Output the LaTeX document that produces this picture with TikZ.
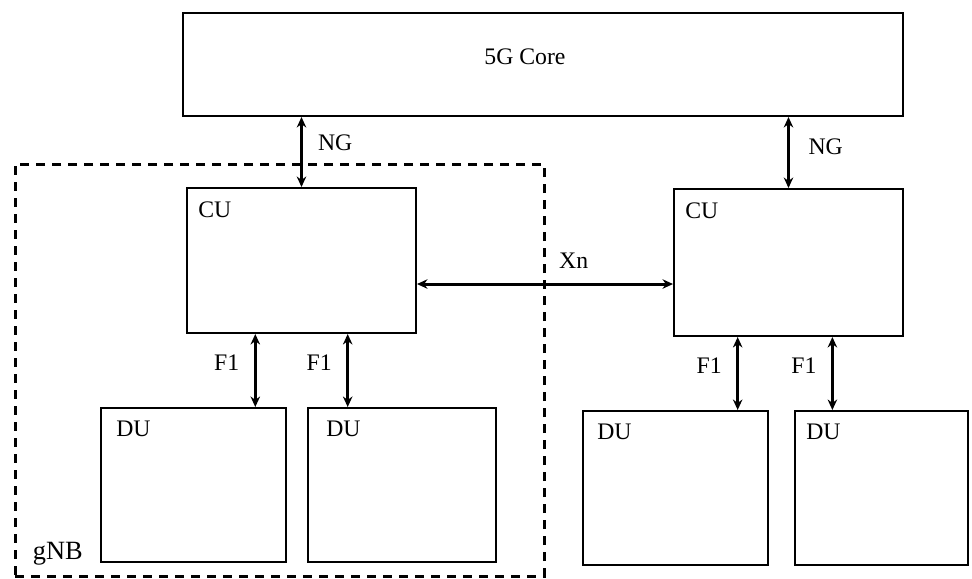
\documentclass[tikz,border=0pt]{standalone}
\usepackage{fontspec}
\setmainfont{Liberation Serif}
\usetikzlibrary{arrows.meta, positioning, calc}

\begin{document}
\begin{tikzpicture}[
  font=\fontsize{13.5pt}{15pt}\selectfont,
  box/.style={draw, line width=0.4mm, inner sep=0pt},
  region/.style={draw, line width=0.6mm, dash pattern=on 1.8mm off 1.4mm,
                 inner sep=0pt},
  link/.style={{Stealth[length=2.1mm, width=1.9mm]}-{Stealth[length=2.1mm, width=1.9mm]},
               line width=0.6mm},
  boxlbl/.style={anchor=north west, inner sep=0pt, xshift=#1, yshift=-2.8mm},
  boxlbl/.default=2.4mm,
  lbl/.style={inner sep=1.5mm}
]
\useasboundingbox (0mm,0mm) rectangle (194.4mm,-115.6mm);

%% ---------- core ----------
\node[box, minimum width=144mm, minimum height=20.6mm,
      label={[xshift=-3.6mm, yshift=1.5mm]center:5G Core}] (core) at (108.6mm,-12.9mm) {};

%% ---------- gNB region ----------
\node[region, minimum width=105.8mm, minimum height=82.4mm,
      label={[anchor=base west, inner sep=0pt, xshift=3.8mm, yshift=3.6mm,
              font=\fontsize{15pt}{17pt}\selectfont]south west:gNB}]
  (gnb) at (55.9mm,-74mm) {};

%% ---------- central units ----------
\node[box, minimum width=45.8mm, minimum height=29mm,
      label={[boxlbl]north west:CU}] (cuA) at (60.3mm,-52.1mm) {};
\node[box, minimum width=45.8mm, minimum height=29.4mm,
      label={[boxlbl]north west:CU}] (cuB) at (157.7mm,-52.5mm) {};

%% ---------- distributed units ----------
\node[box, minimum width=37mm, minimum height=30.8mm,
      label={[boxlbl=3.2mm]north west:DU}] (duA) at (38.7mm,-97mm) {};
\node[box, minimum width=37.6mm, minimum height=30.8mm,
      label={[boxlbl=3.8mm]north west:DU}] (duB) at (80.4mm,-97mm) {};
\node[box, minimum width=37mm, minimum height=30.8mm,
      label={[boxlbl=3mm]north west:DU}] (duC) at (135.1mm,-97.6mm) {};
\node[box, minimum width=34.6mm, minimum height=30.8mm,
      label={[boxlbl=2.4mm]north west:DU}] (duD) at (176.3mm,-97.6mm) {};

%% ---------- NG ----------
\draw[link] (cuA.north |- core.south) -- (cuA.north)
  node[lbl, midway, right, xshift=1.5mm, yshift=1.8mm] {NG};
\draw[link] (cuB.north |- core.south) -- (cuB.north)
  node[lbl, midway, right, xshift=2.2mm, yshift=1.2mm] {NG};

%% ---------- Xn ----------
\coordinate (xn) at ($(cuA.north east)!0.66!(cuA.south east)$);
\draw[link] (xn) -- (xn -| cuB.west)
  node[lbl, pos=0.52, above right, yshift=1.3mm] {Xn};

%% ---------- F1 ----------
\foreach \cu/\du/\p in {cuA/duA/0.3, cuA/duB/0.7, cuB/duC/0.28, cuB/duD/0.69} {
  \coordinate (f1) at ($(\cu.south west)!\p!(\cu.south east)$);
  \draw[link] (f1) -- (f1 |- \du.north)
    node[lbl, midway, left, xshift=-1.4mm, yshift=1.6mm] {F1};
}
\end{tikzpicture}
\end{document}
